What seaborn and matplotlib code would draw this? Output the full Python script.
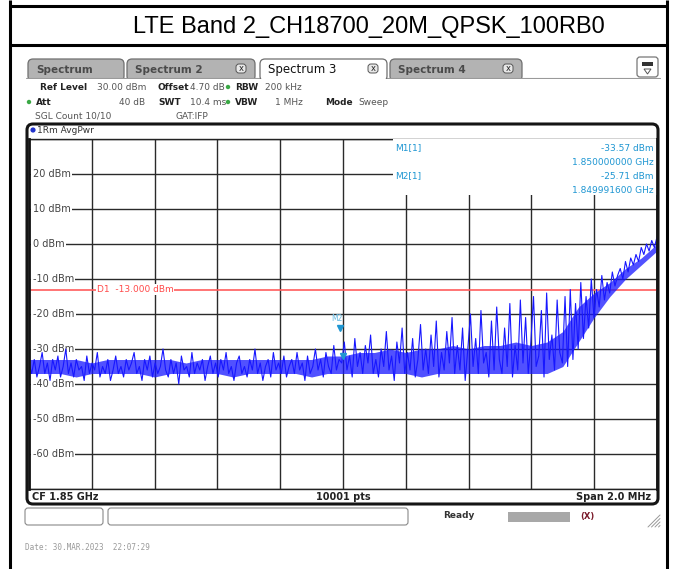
import numpy as np
import pandas as pd
import seaborn as sns
import matplotlib.pyplot as plt
from matplotlib.patches import FancyBboxPatch, Rectangle, Polygon, Circle

sns.set_style("white")
plt.rcParams['font.family'] = ['DejaVu Sans']

# ---------------- data ----------------
title = "LTE Band 2_CH18700_20M_QPSK_100RB0"
center_ghz = 1.85
span_mhz = 2.0
ref_level = 30
db_per_div = 10
display_line_dbm = -13.0

# trace levels (dBm), left edge -> centre
level_lower_half = [
    -34, -37, -33, -38, -35, -31, -37, -34, -39, -33,
    -36, -32, -38, -35, -30, -37, -34, -38, -33, -36,
    -35, -39, -32, -37, -34, -36, -31, -38, -35, -37,
    -33, -39, -36, -32, -37, -35, -38, -33, -36, -34,
    -31, -37, -35, -39, -33, -36, -32, -38, -34, -37,
    -35, -30, -36, -38, -33, -37, -34, -40, -32, -36,
    -35, -38, -31, -37, -34, -36, -33, -39, -35, -32,
    -37, -34, -38, -33, -36, -31, -37, -35, -39, -34,
    -32, -37, -35, -38, -33, -36, -30, -37, -34, -39,
    -35, -33, -38, -31, -36, -34, -37, -32, -38, -35,
    -33, -37, -31, -36, -34, -39, -32, -37, -35, -30,
    -36, -33, -38, -31, -35, -37, -29, -36, -33, -34,
]
# centre -> start of the ramp
level_upper_half = [
    -28, -36, -32, -38, -27, -35, -31, -37, -29, -34,
    -26, -37, -33, -38, -30, -35, -25, -36, -32, -39,
    -28, -34, -24, -37, -31, -36, -27, -38, -33, -23,
    -36, -30, -37, -26, -35, -22, -38, -31, -36, -25,
    -34, -21, -37, -29, -36, -24, -39, -30, -20, -35,
    -27, -37, -19, -34, -31, -38, -22, -36, -18, -33,
    -37, -24, -35, -17, -38, -29, -36, -16, -34, -21,
    -37, -28, -15, -35, -32, -19, -38, -14, -33, -26,
    -36, -16, -31, -34,
]
# ramp up to the right edge
level_ramp = [
    -15, -35, -13, -33, -17, -30, -11, -27, -15, -24,
    -10, -21, -13, -18, -9, -16, -11, -14, -8, -12,
    -9, -7, -10, -5, -8, -4, -6, -3, -5, -1,
    -3, 0, -2, 1, -1, 2,
]

# dense core of the averaged trace, every 50 kHz from the left edge
core_low = [
    -37, -37, -37, -38, -37, -37, -37, -37, -38, -37, -37,
    -37, -37, -38, -37, -37, -37, -37, -38, -37, -37,
    -37, -37, -37, -37, -38, -37, -37, -37, -37, -37,
    -37, -37, -37, -35, -28, -21, -15, -10, -6, -2,
]
core_high = [
    -33, -33, -33, -33, -34, -33, -33, -33, -33, -33, -34,
    -33, -33, -33, -33, -33, -33, -33, -33, -32, -32,
    -31, -31, -30, -31, -30, -30, -29, -30, -29, -29,
    -28, -29, -28, -25, -18, -14, -11, -7, -4, 0,
]

y_ticks = [20, 10, 0, -10, -20, -30, -40, -50, -60]

markers = {"M1": (0.0, -33.57, 1.850000000), "M2": (-0.0084, -25.71, 1.849991600)}

levels = level_lower_half + level_upper_half + level_ramp
offset_mhz = np.linspace(-span_mhz / 2, span_mhz / 2, len(levels))
trace = pd.DataFrame({"offset_mhz": offset_mhz, "level_dbm": levels})
core = pd.DataFrame({"offset_mhz": np.linspace(-span_mhz / 2, span_mhz / 2, len(core_low)),
                     "low": core_low, "high": core_high})

# ---------------- figure ----------------
W, H = 675, 569
fig = plt.figure(figsize=(W / 100, H / 100), dpi=100)
bg = fig.add_axes([0, 0, 1, 1])
bg.set_xlim(0, W)
bg.set_ylim(H, 0)
bg.axis('off')


def px_axes(x0, y0, x1, y1):
    return [x0 / W, 1 - y1 / H, (x1 - x0) / W, (y1 - y0) / H]


# table around the screenshot
for x in (10, 667):
    bg.plot([x, x], [0, H], color='black', lw=2.2, solid_capstyle='butt')
for y in (6, 45):
    bg.plot([10, 667], [y, y], color='black', lw=2.2, solid_capstyle='butt')
bg.text(369, 27, title, ha='center', va='center', fontsize=17,
        family=['Liberation Sans', 'DejaVu Sans'], color='black')

# tabs
tab_specs = [
    (28, 127, "Spectrum", False),
    (127, 258, "Spectrum 2", False),
    (260, 390, "Spectrum 3", True),
    (390, 525, "Spectrum 4", False),
]
bg.plot([26, 660], [78, 78], color='#9a9a9a', lw=0.8)
for x0, x1, name, active in tab_specs:
    fc = 'white' if active else '#b3b3b3'
    tab = FancyBboxPatch((x0, 59), x1 - x0 - 3, 22,
                         boxstyle="round,pad=0,rounding_size=5",
                         fc=fc, ec='#6f6f6f', lw=0.9, zorder=2 if active else 1)
    bg.add_patch(tab)
    if active:
        bg.text(x0 + 8, 69, name, fontsize=8.5, color='#111', va='center', zorder=3)
    else:
        bg.text(x0 + 8, 70, name, fontsize=7.5, color='#4a4a4a',
                fontweight='bold', va='center', zorder=3)
    if name != "Spectrum":
        cx = x1 - 17
        bg.add_patch(FancyBboxPatch((cx - 5, 64), 10, 9, boxstyle="round,pad=0,rounding_size=3",
                                    fc='#e8e8e8', ec='#555', lw=0.7, zorder=3))
        bg.text(cx, 68.5, "x", fontsize=6, ha='center', va='center', color='#222', zorder=4)
bg.add_patch(Rectangle((26, 79), 634, 45, fc='white', ec='none', zorder=2.5))

# settings icon
bg.add_patch(FancyBboxPatch((637, 57), 21, 20, boxstyle="round,pad=0,rounding_size=3",
                            fc='white', ec='#777', lw=0.9))
bg.add_patch(Rectangle((642, 62), 11, 4, fc='#333', ec='none'))
bg.add_patch(Polygon([[644, 69], [651, 69], [647.5, 74]], closed=True, fc='none', ec='#555', lw=0.7))

# instrument settings
bold = dict(fontsize=6.5, fontweight='bold', color='#222', va='center', zorder=3)
norm = dict(fontsize=6.5, color='#555', va='center', zorder=3)
bg.text(40, 87, "Ref Level", **bold)
bg.text(97, 87, "30.00 dBm", **norm)
bg.text(158, 87, "Offset", **bold)
bg.text(190, 87, "4.70 dB", **norm)
bg.text(235, 87, "RBW", **bold)
bg.text(265, 87, "200 kHz", **norm)
bg.text(36, 102, "Att", **bold)
bg.text(145, 102, "40 dB", ha='right', **norm)
bg.text(158, 102, "SWT", **bold)
bg.text(190, 102, "10.4 ms", **norm)
bg.text(235, 102, "VBW", **bold)
bg.text(275, 102, "1 MHz", **norm)
bg.text(325, 102, "Mode", **bold)
bg.text(358, 102, "Sweep", **norm)
bg.text(35, 116, "SGL Count 10/10", **norm)
bg.text(175, 116, "GAT:IFP", **norm)
for gx, gy in ((228, 87), (228, 102), (29, 102)):
    bg.add_patch(Circle((gx, gy), 2.2, fc='#3aa845', ec='none', zorder=3))

# display frame
bg.add_patch(FancyBboxPatch((27, 124), 631, 380, boxstyle="round,pad=0,rounding_size=6",
                            fc='white', ec='#151515', lw=2.2, zorder=3))
bg.add_patch(Circle((33, 130), 2.6, fc='#2233cc', ec='none', zorder=4))
bg.text(37, 130.5, "1Rm AvgPwr", fontsize=6.5, color='#333', va='center', zorder=4)
bg.text(32, 496.5, "CF 1.85 GHz", fontsize=7, fontweight='bold', color='#222', va='center', zorder=4)
bg.text(343, 496.5, "10001 pts", fontsize=7, fontweight='bold', color='#222',
        va='center', ha='center', zorder=4)
bg.text(651, 496.5, "Span 2.0 MHz", fontsize=7, fontweight='bold', color='#222',
        va='center', ha='right', zorder=4)

# status bar
for x0, x1 in ((25, 103), (108, 408)):
    bg.add_patch(FancyBboxPatch((x0, 508), x1 - x0, 17, boxstyle="round,pad=0,rounding_size=3",
                                fc='white', ec='#8a8a8a', lw=0.8))
bg.text(443, 516, "Ready", fontsize=6.5, fontweight='bold', color='#333', va='center')
bg.add_patch(Rectangle((508, 512), 62, 10, fc='#a8a8a8', ec='none'))
bg.text(587, 516, "(X)", fontsize=6, fontweight='bold', color='#7a1a2a', va='center', ha='center')
for k in range(4):
    bg.plot([648 + 3.5 * k, 660], [527, 515 + 3.5 * k], color='#999', lw=0.7)
bg.text(25, 547, "Date: 30.MAR.2023  22:07:29", fontsize=5.5, color='#9a9a9a',
        va='center', family='DejaVu Sans Mono')

# ---------------- spectrum ----------------
ax = fig.add_axes(px_axes(29, 139, 657, 489), zorder=5)
ax.set_facecolor('none')
bottom = ref_level - 10 * db_per_div
ax.set_xlim(-span_mhz / 2, span_mhz / 2)
ax.set_ylim(bottom, ref_level)
ax.set_xticks(np.linspace(-span_mhz / 2, span_mhz / 2, 11))
ax.set_yticks(np.arange(bottom, ref_level + 1, db_per_div))
ax.grid(True, color='#2a2a2a', lw=1.0, zorder=1)
ax.set_axisbelow(True)
ax.tick_params(length=0, labelleft=False, labelbottom=False)
for side in ('top', 'bottom'):
    ax.spines[side].set_color('#222')
    ax.spines[side].set_linewidth(1.0)
for side in ('left', 'right'):
    ax.spines[side].set_color('#151515')
    ax.spines[side].set_linewidth(2.0)
    ax.spines[side].set_zorder(7)

for v in y_ticks:
    ax.text(0.006, v, f"{v} dBm", transform=ax.get_yaxis_transform(), fontsize=7,
            color='#444', va='center', ha='left', zorder=3,
            bbox=dict(fc='white', ec='none', pad=1.0))

ax.axhline(display_line_dbm, color='#ff5c5c', lw=1.2, zorder=2)
ax.text(0.108, display_line_dbm, f"D1  {display_line_dbm:.3f} dBm", transform=ax.get_yaxis_transform(),
        fontsize=6.5, color='#ff4a4a', va='center', ha='left', zorder=3,
        bbox=dict(fc='white', ec='none', pad=0.4))

trace_col = '#1717ff'
ax.fill_between(core["offset_mhz"], core["low"], core["high"], color=trace_col,
                alpha=0.75, lw=0, zorder=4)
sns.lineplot(data=trace, x="offset_mhz", y="level_dbm", ax=ax, color=trace_col,
             lw=0.8, estimator=None, sort=False, zorder=4, legend=False)
ax.set_xlabel("")
ax.set_ylabel("")

# markers on the trace
mk_col = '#1e96d2'
for name, (mx, my, _) in markers.items():
    ax.plot([mx], [my + 1.6], marker='v', ms=4.5, color=mk_col, zorder=6, ls='none')
    if name == "M2":
        ax.text(mx - 0.01, my + 4.3, name, fontsize=5.5, color='#66b8e0', ha='center',
                va='center', zorder=6)

# marker readout
ax.add_patch(Rectangle((0.58, 14), 0.42, 16, transform=ax.get_yaxis_transform(),
                       fc='white', ec='none', zorder=5))
read_y = [(27.4, 23.4), (19.4, 15.4)]
for (name, (mx, my, fghz)), (y1, y2) in zip(markers.items(), read_y):
    ax.text(0.583, y1, f"{name}[1]", transform=ax.get_yaxis_transform(), fontsize=6.5,
            color=mk_col, va='center', zorder=6)
    ax.text(0.995, y1, f"{my:.2f} dBm", transform=ax.get_yaxis_transform(), fontsize=6.5,
            color=mk_col, va='center', ha='right', zorder=6)
    ax.text(0.995, y2, f"{fghz:.9f} GHz", transform=ax.get_yaxis_transform(), fontsize=6.5,
            color=mk_col, va='center', ha='right', zorder=6)

fig.savefig("out.png", dpi=100)
